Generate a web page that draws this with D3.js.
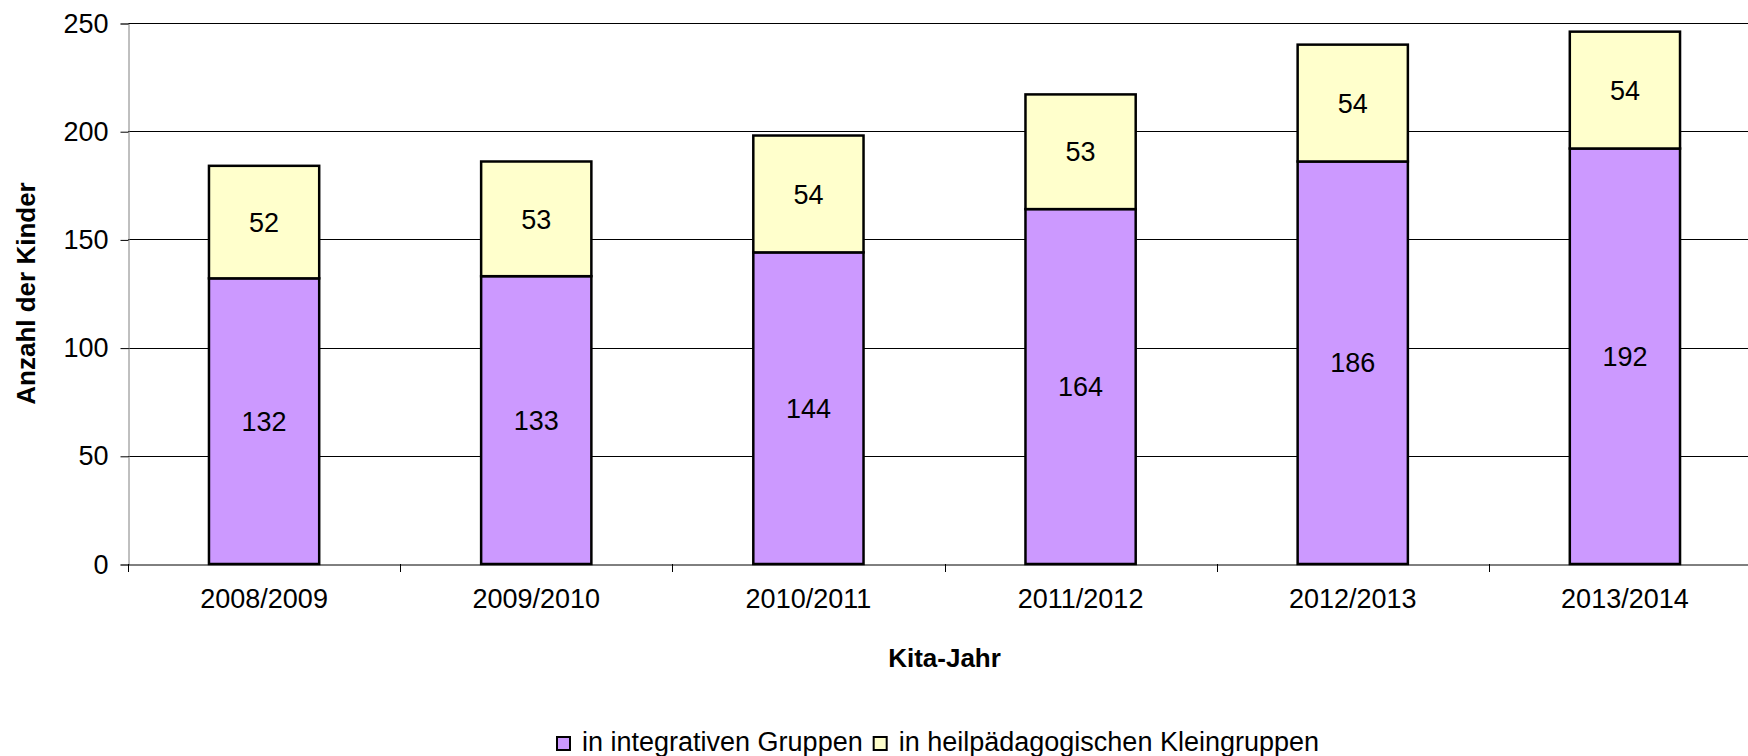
<!DOCTYPE html>
<html>
<head>
<meta charset="utf-8">
<script src="https://cdn.jsdelivr.net/npm/d3@7"></script>
<style>
  body { margin: 0; background: white; }
  text { font-family: "Liberation Sans", Arial, sans-serif; }
</style>
</head>
<body>
<div id="d3-container"></div>
<script>
// data
const years = ["2008/2009", "2009/2010", "2010/2011", "2011/2012", "2012/2013", "2013/2014"];
const integrativ = [132, 133, 144, 164, 186, 192];
const heilpaed = [52, 53, 54, 53, 54, 54];
const seriesNames = ["in integrativen Gruppen", "in heilpädagogischen Kleingruppen"];
const seriesColors = ["#cc99ff", "#ffffcc"];
const yTicks = [0, 50, 100, 150, 200, 250];

let margin = { top: 23, left: 128, right: -13, bottom: 192 },
  width = 1748 - margin.left - margin.right,
  height = 756 - margin.top - margin.bottom;

let svg1 = d3.select('#d3-container')
  .append('svg')
  .attr('width', 1748)
  .attr('height', 756)
  .style('background-color', 'white');

const x = d3.scaleBand()
  .domain(years)
  .range([margin.left, margin.left + width])
  .padding(0);

const y = d3.scaleLinear()
  .domain([0, 250])
  .range([margin.top + height, margin.top]);

const barW = x.bandwidth() * 0.405;

// gridlines
svg1.append("g")
  .selectAll("line")
  .data(yTicks.slice(1))
  .join("line")
  .attr("x1", margin.left)
  .attr("x2", 1748)
  .attr("y1", d => Math.round(y(d)) + 0.5)
  .attr("y2", d => Math.round(y(d)) + 0.5)
  .attr("stroke", "#000")
  .attr("stroke-width", 1);

// y axis
svg1.append("g")
  .attr("transform", `translate(${margin.left + 0.5},0.5)`)
  .call(d3.axisLeft(y).tickValues(yTicks).tickSize(8).tickPadding(12))
  .call(g => g.select(".domain").attr("stroke", "#808080"))
  .call(g => g.selectAll(".tick line").attr("stroke", "#000"))
  .selectAll("text")
  .style("font-size", "27px")
  .attr("fill", "#000");

// x axis
svg1.append("g")
  .attr("transform", `translate(0,${Math.round(y(0)) + 0.5})`)
  .call(d3.axisBottom(x).tickSize(0).tickPadding(24).tickSizeOuter(0))
  .call(g => g.select(".domain").attr("stroke", "#000"))
  .selectAll("text")
  .style("font-size", "27px")
  .attr("fill", "#000");

// tick marks between categories
svg1.append("g")
  .selectAll("line")
  .data(years)
  .join("line")
  .attr("x1", d => Math.round(x(d)) + 0.5)
  .attr("x2", d => Math.round(x(d)) + 0.5)
  .attr("y1", Math.round(y(0)))
  .attr("y2", Math.round(y(0)) + 8)
  .attr("stroke", "#000");

// stacked bars
let stackData = years.map((yr, i) => ({ year: yr, a: integrativ[i], b: heilpaed[i] }));

let groups = svg1.append("g")
  .selectAll("g")
  .data(stackData)
  .join("g")
  .attr("transform", d => `translate(${x(d.year) + x.bandwidth() / 2 - barW / 2},0)`);

groups.append("rect")
  .attr("x", 0)
  .attr("y", d => y(d.a))
  .attr("width", barW)
  .attr("height", d => y(0) - y(d.a))
  .attr("fill", seriesColors[0])
  .attr("stroke", "#000")
  .attr("stroke-width", 2.5);

groups.append("rect")
  .attr("x", 0)
  .attr("y", d => y(d.a + d.b))
  .attr("width", barW)
  .attr("height", d => y(d.a) - y(d.a + d.b))
  .attr("fill", seriesColors[1])
  .attr("stroke", "#000")
  .attr("stroke-width", 2.5);

// value labels
groups.append("text")
  .attr("x", barW / 2)
  .attr("y", d => (y(0) + y(d.a)) / 2)
  .attr("dy", "0.36em")
  .attr("text-anchor", "middle")
  .style("font-size", "27px")
  .text(d => d.a);

groups.append("text")
  .attr("x", barW / 2)
  .attr("y", d => (y(d.a) + y(d.a + d.b)) / 2)
  .attr("dy", "0.36em")
  .attr("text-anchor", "middle")
  .style("font-size", "27px")
  .text(d => d.b);

// axis titles
svg1.append("text")
  .attr("text-anchor", "middle")
  .attr("x", margin.left + width / 2)
  .attr("y", 667)
  .style("font-size", "26px")
  .style("font-weight", "bold")
  .text("Kita-Jahr");

svg1.append("text")
  .attr("text-anchor", "middle")
  .attr("transform", `translate(35,${margin.top + height / 2}) rotate(-90)`)
  .style("font-size", "26px")
  .style("font-weight", "bold")
  .text("Anzahl der Kinder");

// legend
let legend = svg1.append("g");
let lx = 556;
seriesNames.forEach((name, i) => {
  legend.append("rect")
    .attr("x", lx + 1)
    .attr("y", 737)
    .attr("width", 13)
    .attr("height", 13)
    .attr("fill", seriesColors[i])
    .attr("stroke", "#000")
    .attr("stroke-width", 2);
  let t = legend.append("text")
    .attr("x", lx + 26)
    .attr("y", 751)
    .style("font-size", "27px")
    .text(name);
  lx += 26 + t.node().getComputedTextLength() + 10;
});
</script>
</body>
</html>
